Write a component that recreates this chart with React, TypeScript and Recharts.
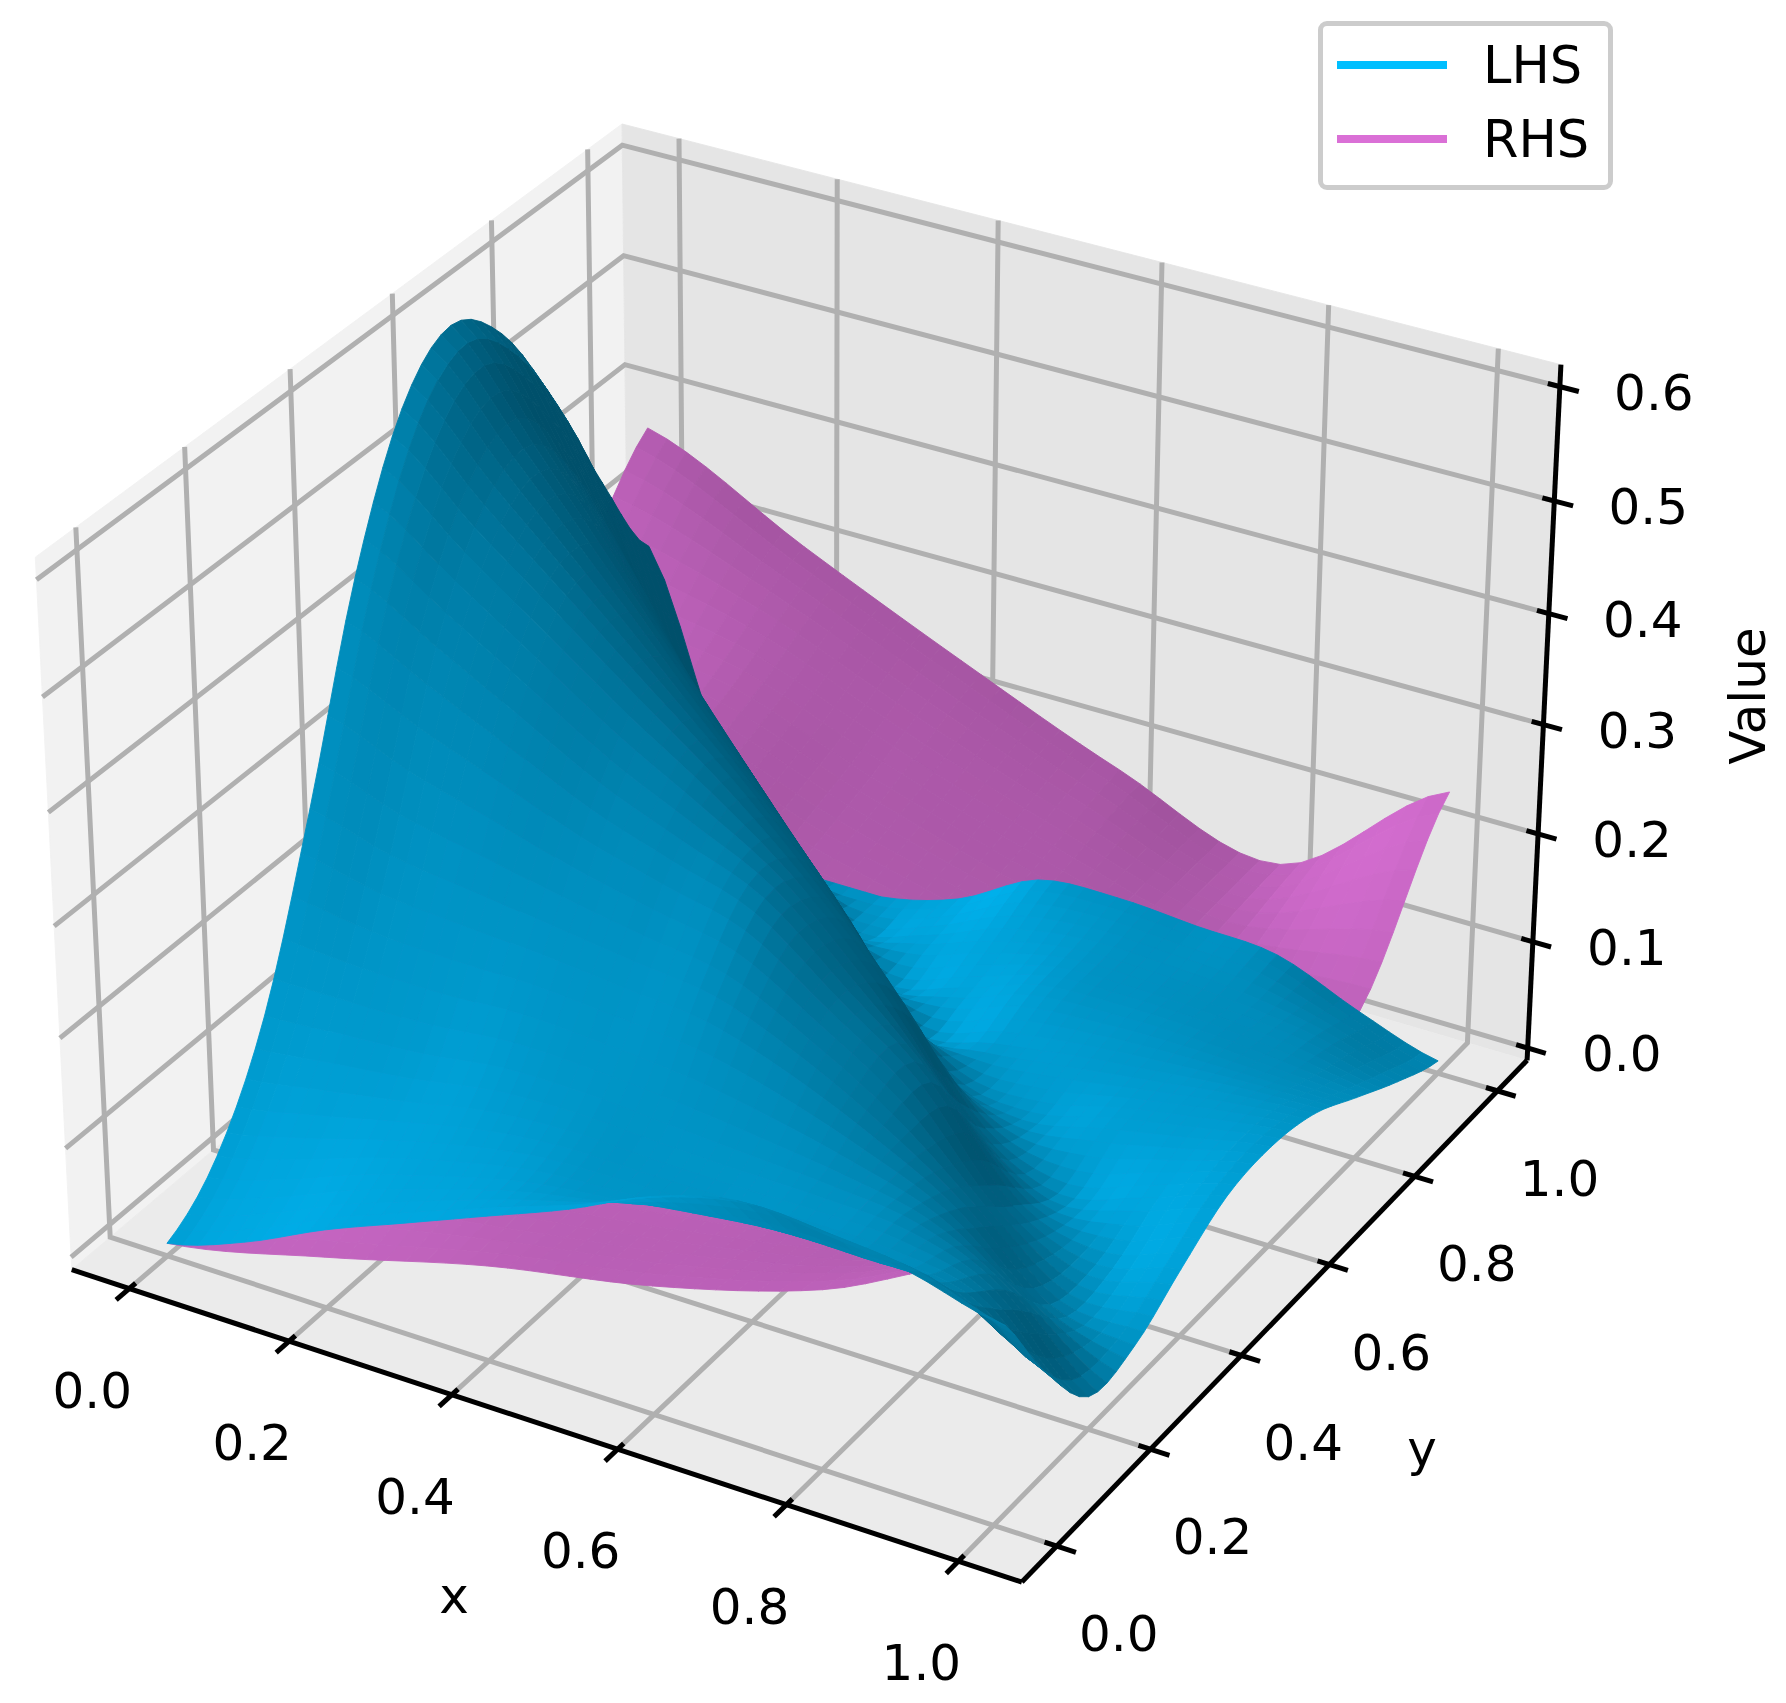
import React from 'react';
import { ScatterChart, Scatter, XAxis, YAxis } from 'recharts';

const WIDTH = 1786;
const HEIGHT = 1703;

const xTicks = [0, 0.2, 0.4, 0.6, 0.8, 1];
const yTicks = [0, 0.2, 0.4, 0.6, 0.8, 1];
const zTicks = [0, 0.1, 0.2, 0.3, 0.4, 0.5, 0.6];

// z, rows are y = 0..1, columns x = 0..1
const lhsValues = [
  [0.0, 0.025, 0.06, 0.09, 0.12, 0.15, 0.185, 0.205, 0.2, 0.19, 0.17],
  [0.04, 0.06, 0.085, 0.105, 0.12, 0.125, 0.13, 0.135, 0.135, 0.13, 0.085],
  [0.13, 0.135, 0.14, 0.15, 0.15, 0.145, 0.14, 0.135, 0.125, 0.09, 0.018],
  [0.28, 0.26, 0.25, 0.24, 0.23, 0.22, 0.19, 0.15, 0.1, 0.035, 0.022],
  [0.45, 0.41, 0.37, 0.33, 0.3, 0.27, 0.21, 0.15, 0.06, 0.03, 0.05],
  [0.565, 0.5, 0.44, 0.38, 0.32, 0.25, 0.17, 0.07, 0.03, 0.05, 0.075],
  [0.605, 0.52, 0.43, 0.34, 0.25, 0.16, 0.06, 0.035, 0.05, 0.065, 0.08],
  [0.565, 0.45, 0.34, 0.22, 0.13, 0.035, 0.035, 0.045, 0.055, 0.065, 0.07],
  [0.475, 0.34, 0.2, 0.11, 0.02, 0.025, 0.05, 0.055, 0.055, 0.05, 0.045],
  [0.365, 0.19, 0.1, 0.01, 0.015, 0.04, 0.055, 0.055, 0.05, 0.04, 0.02],
  [0.27, 0.08, 0.0, 0.0, 0.02, 0.06, 0.065, 0.06, 0.055, 0.025, 0.0],
];

const rhsValues = [
  [0.0, 0.035, 0.075, 0.105, 0.15, 0.22],
  [0.04, 0.09, 0.085, 0.1, 0.12, 0.16],
  [0.08, 0.16, 0.15, 0.14, 0.13, 0.13],
  [0.17, 0.22, 0.18, 0.15, 0.12, 0.12],
  [0.26, 0.26, 0.21, 0.165, 0.13, 0.125],
  [0.38, 0.31, 0.245, 0.185, 0.14, 0.25],
];

const LHS_RGB = [0, 191, 255];
const RHS_RGB = [218, 112, 214];
const LHS_LIGHT = [1.1, 0.25, 0.33];
const RHS_LIGHT = [0.667, 0.5, 0.5];
const X_LIM = [-0.0729, 1.0729];
const Y_LIM = [-0.0729, 1.0729];
const Z_LIM = [-0.0117, 0.619];

const EL = (31 * Math.PI) / 180;
const W = [Math.cos(EL) * 0.5, -Math.cos(EL) * 0.866, Math.sin(EL)];
const V = [-Math.sin(EL) * 0.5, Math.sin(EL) * 0.866, Math.cos(EL)];

// matplotlib style 3d camera (azim -60), fitted to the picture
const project = (x: number, y: number, z: number) => {
  const px = ((x - X_LIM[0]) / (X_LIM[1] - X_LIM[0]) - 0.5) * 1.1905;
  const py = ((y - Y_LIM[0]) / (Y_LIM[1] - Y_LIM[0]) - 0.5) * 1.1905;
  const pz = ((z - Z_LIM[0]) / (Z_LIM[1] - Z_LIM[0]) - 0.5) * 0.915;
  const xv = px * 0.866 + py * 0.5;
  const yv = V[0] * px + V[1] * py + V[2] * pz;
  const depth = 10 - (W[0] * px + W[1] * py + W[2] * pz);
  return { sx: 812.7 + (9157 * xv) / depth, sy: 819.4 - (8971 * yv) / depth, depth };
};

const cr = (a: number, b: number, c: number, d: number, t: number) =>
  b + 0.5 * t * (c - a + t * (2 * a - 5 * b + 4 * c - d + t * (3 * (b - c) + d - a)));

// smooth patch between the read values, same idea as a monotone line between points
const sampleZ = (grid: number[][], x: number, y: number) => {
  const n = grid.length - 1;
  const m = grid[0].length - 1;
  const gx = Math.min(x * m, m - 1e-6);
  const gy = Math.min(y * n, n - 1e-6);
  const i = Math.floor(gx);
  const j = Math.floor(gy);
  const at = (r: number, c: number) =>
    grid[Math.max(0, Math.min(n, r))][Math.max(0, Math.min(m, c))];
  const row = (r: number) => cr(at(r, i - 1), at(r, i), at(r, i + 1), at(r, i + 2), gx - i);
  return Math.max(0, cr(row(j - 1), row(j), row(j + 1), row(j + 2), gy - j));
};

const shadeColor = (rgb: number[], light: number[], zx: number, zy: number) => {
  const s = (light[0] * zx + light[1] * zy + light[2]) / Math.sqrt(1 + zx * zx + zy * zy);
  const f = Math.min(1, Math.max(0.42, 0.3 + 0.35 * (s + 1)));
  return `rgb(${rgb.map((c) => Math.round(c * f)).join(',')})`;
};

const buildFacets = (grid: number[][], rgb: number[], light: number[], steps: number) => {
  const facets: any[] = [];
  const h = 1 / steps;
  for (let a = 0; a < steps; a++) {
    for (let b = 0; b < steps; b++) {
      const x0 = a * h;
      const y0 = b * h;
      const z00 = sampleZ(grid, x0, y0);
      const z10 = sampleZ(grid, x0 + h, y0);
      const z11 = sampleZ(grid, x0 + h, y0 + h);
      const z01 = sampleZ(grid, x0, y0 + h);
      const corners = [
        project(x0, y0, z00),
        project(x0 + h, y0, z10),
        project(x0 + h, y0 + h, z11),
        project(x0, y0 + h, z01),
      ];
      const sx = corners.reduce((t, c) => t + c.sx, 0) / 4;
      const sy = corners.reduce((t, c) => t + c.sy, 0) / 4;
      const depth = corners.reduce((t, c) => t + c.depth, 0) / 4;
      const zx = ((z10 + z11 - z00 - z01) / 2) / h;
      const zy = ((z01 + z11 - z00 - z10) / 2) / h;
      facets.push({
        sx,
        sy,
        depth,
        off: corners.map((c) => [c.sx - sx, c.sy - sy]),
        fill: shadeColor(rgb, light, zx, zy),
      });
    }
  }
  return facets.sort((p, q) => q.depth - p.depth);
};

const Facet = ({ cx, cy, payload }: any) => (
  <polygon
    points={payload.off.map((o: number[]) => `${cx + o[0]},${cy + o[1]}`).join(' ')}
    fill={payload.fill}
    stroke={payload.fill}
    strokeWidth={0.9}
  />
);

const Nothing = () => <g />;

const pane = (pts: number[][], fill: string) => {
  const c = pts.map((p) => project(p[0], p[1], p[2]));
  const sx = c.reduce((t, p) => t + p.sx, 0) / 4;
  const sy = c.reduce((t, p) => t + p.sy, 0) / 4;
  return { sx, sy, fill, off: c.map((p) => [p.sx - sx, p.sy - sy]) };
};

const [x0, x1] = X_LIM;
const [y0, y1] = Y_LIM;
const [z0, z1] = Z_LIM;

const panes = [
  pane([[x0, y0, z0], [x0, y1, z0], [x0, y1, z1], [x0, y0, z1]], '#f2f2f2'),
  pane([[x0, y1, z0], [x1, y1, z0], [x1, y1, z1], [x0, y1, z1]], '#e5e5e5'),
  pane([[x0, y0, z0], [x1, y0, z0], [x1, y1, z0], [x0, y1, z0]], '#ebebeb'),
];

const path3d = (pts: number[][]) => pts.map((p) => project(p[0], p[1], p[2]));

const gridLines = [
  ...xTicks.map((t) => path3d([[t, y0, z0], [t, y1, z0], [t, y1, z1]])),
  ...yTicks.map((t) => path3d([[x1, t, z0], [x0, t, z0], [x0, t, z1]])),
  ...zTicks.map((t) => path3d([[x0, y0, t], [x0, y1, t], [x1, y1, t]])),
];

const axisLines = [
  path3d([[x0, y0, z0], [x1, y0, z0]]),
  path3d([[x1, y0, z0], [x1, y1, z0]]),
  path3d([[x1, y1, z0], [x1, y1, z1]]),
];

const tickMarks = [
  ...xTicks.map((t) => path3d([[t, y0 + 0.012, z0], [t, y0 - 0.025, z0]])),
  ...yTicks.map((t) => path3d([[x1 - 0.014, t, z0], [x1 + 0.022, t, z0]])),
  ...zTicks.map((t) => path3d([[x1 - 0.014, y1, t], [x1 + 0.022, y1, t]])),
];

const fmt = (v: number) => v.toFixed(1);
const tickLabels = [
  ...xTicks.map((t) => {
    const p = project(t, y0, z0);
    return { sx: p.sx - 37, sy: p.sy + 102, text: fmt(t) };
  }),
  ...yTicks.map((t) => {
    const p = project(x1, t, z0);
    return { sx: p.sx + 62, sy: p.sy + 88, text: fmt(t) };
  }),
  ...zTicks.map((t) => {
    const p = project(x1, y1, t);
    return { sx: p.sx + 94, sy: p.sy + 6, text: fmt(t) };
  }),
];

const axisTitles = [
  { sx: 454, sy: 1596, text: 'x', rotate: 0 },
  { sx: 1422, sy: 1449, text: 'y', rotate: 0 },
  { sx: 1748, sy: 696, text: 'Value', rotate: -90 },
];

const Label = ({ cx, cy, payload }: any) => (
  <text
    x={cx}
    y={cy}
    textAnchor="middle"
    dominantBaseline="central"
    fontFamily="DejaVu Sans"
    fontSize={50}
    fill="#000"
    transform={payload.rotate ? `rotate(${payload.rotate} ${cx} ${cy})` : undefined}
  >
    {payload.text}
  </text>
);

const rhsFacets = buildFacets(rhsValues, RHS_RGB, RHS_LIGHT, 40);
const lhsFacets = buildFacets(lhsValues, LHS_RGB, LHS_LIGHT, 50);

const legendItems = [
  { name: 'LHS', color: '#00BFFF', top: 61 },
  { name: 'RHS', color: '#DA70D6', top: 135 },
];

export default function App() {
  return (
    <div style={{ position: 'absolute', left: 0, top: 0, width: WIDTH, height: HEIGHT, background: '#fff' }}>
      <ScatterChart width={WIDTH} height={HEIGHT} margin={{ top: 0, right: 0, bottom: 0, left: 0 }}>
        <XAxis type="number" dataKey="sx" domain={[0, WIDTH]} hide />
        <YAxis type="number" dataKey="sy" domain={[0, HEIGHT]} reversed hide />
        <Scatter data={panes} shape={Facet} isAnimationActive={false} />
        {gridLines.map((l, i) => (
          <Scatter key={`g${i}`} data={l} line={{ stroke: '#b0b0b0', strokeWidth: 5 }} shape={Nothing} isAnimationActive={false} />
        ))}
        {axisLines.map((l, i) => (
          <Scatter key={`a${i}`} data={l} line={{ stroke: '#000', strokeWidth: 5 }} shape={Nothing} isAnimationActive={false} />
        ))}
        {tickMarks.map((l, i) => (
          <Scatter key={`t${i}`} data={l} line={{ stroke: '#000', strokeWidth: 5 }} shape={Nothing} isAnimationActive={false} />
        ))}
        <Scatter name="RHS" data={rhsFacets} shape={Facet} isAnimationActive={false} />
        <Scatter name="LHS" data={lhsFacets} shape={Facet} isAnimationActive={false} />
        <Scatter data={tickLabels} shape={Label} isAnimationActive={false} />
        <Scatter data={axisTitles} shape={Label} isAnimationActive={false} />
      </ScatterChart>
      <div
        style={{
          position: 'absolute',
          left: 1318,
          top: 21,
          width: 295,
          height: 169,
          border: '5px solid #cccccc',
          borderRadius: 9,
          background: '#fff',
          boxSizing: 'border-box',
        }}
      />
      {legendItems.map((d) => (
        <React.Fragment key={d.name}>
          <div style={{ position: 'absolute', left: 1337, top: d.top, width: 110, height: 8, background: d.color }} />
          <div
            style={{
              position: 'absolute',
              left: 1483,
              top: d.top - 27,
              fontFamily: 'DejaVu Sans',
              fontSize: 51,
              lineHeight: '64px',
              color: '#000',
            }}
          >
            {d.name}
          </div>
        </React.Fragment>
      ))}
    </div>
  );
}
